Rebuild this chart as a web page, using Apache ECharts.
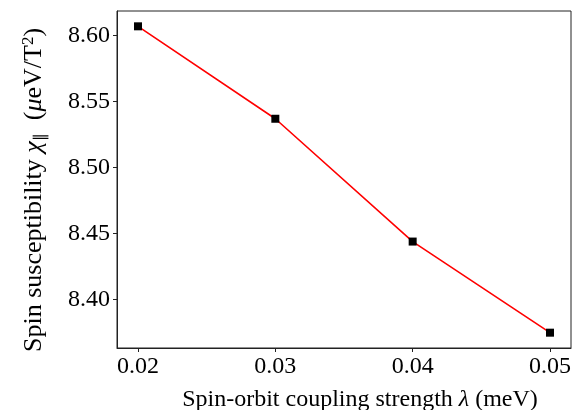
<!DOCTYPE html>
<html>
<head>
<meta charset="utf-8">
<script src="https://cdn.jsdelivr.net/npm/echarts@6/dist/echarts.min.js"></script>
<style>
html,body{margin:0;padding:0;background:#fff;}
#chart{width:588px;height:410px;}
</style>
</head>
<body>
<div id="chart"></div>
<script>
// Data
const xValues = [0.02, 0.03, 0.04, 0.05];
const yValues = [8.607, 8.537, 8.444, 8.375];
const xTicks = [0.02, 0.03, 0.04, 0.05];
const yTicks = [8.40, 8.45, 8.50, 8.55, 8.60];
const xLabel = 'Spin-orbit coupling strength {i|λ} (meV)';
const yLabel = 'Spin susceptibility {i|χ}{sub|∥}  ({i|μ}eV/T{sup|2})';

const font = 'Liberation Serif';
const chart = echarts.init(document.getElementById('chart'), null, {renderer: 'canvas'});

const xMin = 0.01847, xMax = 0.05153;
const yMin = 8.3634, yMax = 8.6186;

function rich(size) {
  return {
    i: {fontFamily: font, fontStyle: 'italic', fontSize: size, color: '#000'},
    sub: {fontFamily: font, fontSize: Math.round(size * 0.6), color: '#000', padding: [12, 0, 0, 0]},
    sup: {fontFamily: font, fontSize: Math.round(size * 0.65), color: '#000', padding: [0, 0, 12, 0]}
  };
}

chart.setOption({
  animation: false,
  backgroundColor: '#fff',
  grid: {left: 117, right: 17, top: 11, bottom: 62, show: true, borderColor: '#222', borderWidth: 1,
         backgroundColor: 'transparent', containLabel: false, outerBoundsMode: 'none'},
  xAxis: {
    type: 'value', min: xMin, max: xMax,
    name: xLabel, nameLocation: 'middle', nameGap: 40,
    nameTextStyle: {fontFamily: font, fontSize: 24, color: '#000', rich: rich(24), padding: [0, 0, 0, 32]},
    axisLine: {show: true, lineStyle: {color: '#222', width: 1}},
    axisTick: {show: true, inside: false, length: 4, lineStyle: {color: '#222'}, customValues: xTicks},
    axisLabel: {fontFamily: font, fontSize: 24, color: '#000', margin: 7, customValues: xTicks, formatter: v => v.toFixed(2)},
    splitLine: {show: false}
  },
  yAxis: {
    type: 'value', min: yMin, max: yMax,
    name: yLabel, nameLocation: 'middle', nameGap: 68,
    nameTextStyle: {fontFamily: font, fontSize: 26, color: '#000', rich: rich(26), padding: [0, 21, 0, 0]},
    axisLine: {show: true, lineStyle: {color: '#222', width: 1}},
    axisTick: {show: true, inside: false, length: 4, lineStyle: {color: '#222'}, customValues: yTicks},
    axisLabel: {fontFamily: font, fontSize: 24, color: '#000', margin: 7, customValues: yTicks, formatter: v => v.toFixed(2)},
    splitLine: {show: false}
  },
  series: [{
    type: 'line',
    data: xValues.map((x, i) => [x, yValues[i]]),
    lineStyle: {color: '#ff0000', width: 1.6},
    symbol: 'rect', symbolSize: 8,
    itemStyle: {color: '#000'},
    showAllSymbol: true
  }]
});
</script>
</body>
</html>
